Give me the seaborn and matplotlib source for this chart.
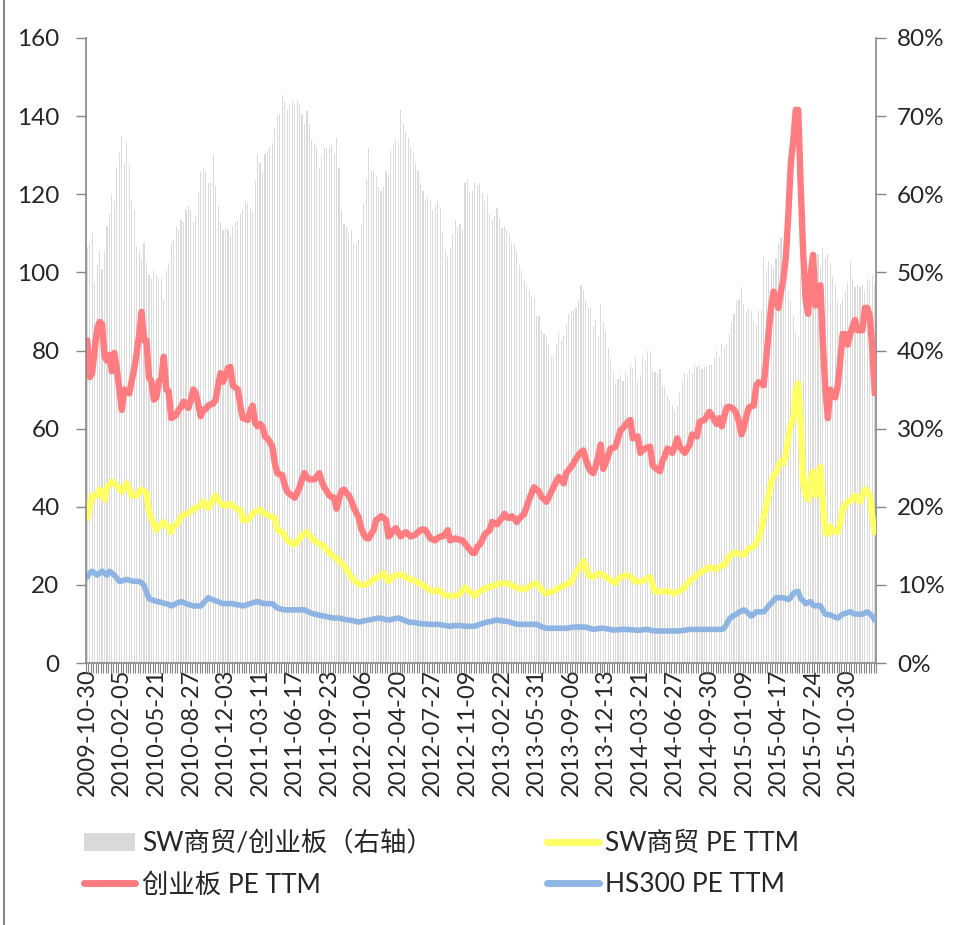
import matplotlib
matplotlib.use("Agg")
import matplotlib.pyplot as plt
import seaborn as sns
import pandas as pd
import numpy as np
from matplotlib.lines import Line2D
from matplotlib.patches import Patch
from matplotlib.ticker import FuncFormatter

tick_labels = ["2009-10-30", "2010-02-05", "2010-05-21", "2010-08-27", "2010-12-03",
               "2011-03-11", "2011-06-17", "2011-09-23", "2012-01-06", "2012-04-20",
               "2012-07-27", "2012-11-09", "2013-02-22", "2013-05-31", "2013-09-06",
               "2013-12-13", "2014-03-21", "2014-06-27", "2014-09-30", "2015-01-09",
               "2015-04-17", "2015-07-24", "2015-10-30"]

# SW商贸/创业板 (right axis, %)
ratio_pct = [
    53.3, 53.6, 55.1, 48.6, 51.0, 52.8, 50.4, 52.8, 55.9, 57.5,
    59.9, 59.1, 63.3, 65.3, 67.4, 64.0, 66.6, 63.8, 59.1, 58.0,
    53.3, 52.8, 51.8, 53.8, 51.2, 49.7, 49.1, 50.2, 49.7, 49.1,
    49.1, 46.5, 50.2, 51.2, 53.8, 54.1, 55.9, 55.4, 56.7, 56.5,
    58.0, 58.5, 58.0, 56.5, 57.2, 60.1, 63.0, 63.3, 63.0, 61.4,
    61.4, 65.1, 61.0, 58.5, 56.5, 55.4, 55.7, 55.4, 54.6, 55.9,
    56.5, 56.7, 57.5, 58.0, 59.1, 58.8, 58.3, 57.8, 61.7, 65.1,
    64.0, 62.7, 65.1, 65.6, 66.1, 66.6, 68.5, 70.0, 70.3, 72.7,
    71.9, 70.8, 71.6, 71.9, 71.6, 72.1, 71.4, 70.3, 69.0, 70.6,
    69.0, 66.9, 66.6, 66.1, 63.3, 64.8, 65.9, 65.9, 66.1, 66.4,
    65.1, 67.2, 63.3, 58.0, 56.2, 55.9, 55.1, 55.4, 53.8, 53.8,
    54.1, 56.2, 58.8, 61.9, 65.9, 63.0, 63.0, 62.2, 60.9, 60.4,
    60.9, 63.0, 62.5, 65.6, 66.4, 66.9, 66.6, 70.8, 69.0, 68.0,
    67.2, 66.1, 65.3, 64.0, 63.0, 61.4, 60.4, 59.1, 59.6, 59.3,
    58.0, 58.5, 59.1, 58.3, 55.1, 52.8, 52.0, 53.1, 54.9, 56.7,
    55.7, 56.2, 55.4, 61.4, 61.9, 60.4, 60.4, 61.4, 61.2, 61.4,
    60.1, 59.1, 59.9, 57.5, 56.7, 57.2, 58.3, 57.0, 55.7, 55.9,
    55.4, 54.9, 53.8, 53.6, 52.8, 51.0, 50.2, 49.1, 48.4, 47.8,
    46.8, 46.8, 44.4, 44.4, 42.6, 42.1, 41.8, 40.8, 39.2, 39.2,
    40.8, 42.3, 41.3, 41.8, 43.4, 44.7, 45.0, 45.2, 45.5, 46.5,
    48.4, 47.8, 46.5, 45.5, 45.5, 43.1, 43.9, 41.8, 46.0, 43.6,
    42.6, 40.3, 38.9, 37.1, 35.8, 36.3, 36.9, 36.1, 37.1, 36.6,
    38.2, 37.6, 39.2, 36.1, 36.9, 39.2, 38.7, 40.0, 40.0, 37.4,
    37.2, 37.1, 37.6, 35.5, 35.3, 34.2, 33.7, 32.9, 32.4, 32.9,
    34.5, 36.1, 37.1, 36.9, 37.6, 37.1, 38.2, 37.9, 38.2, 37.6,
    37.9, 37.9, 38.2, 38.2, 39.2, 40.0, 39.2, 40.8, 40.5, 40.8,
    42.1, 43.6, 44.7, 46.3, 46.5, 48.1, 46.0, 45.0, 45.5, 45.0,
    43.6, 43.4, 45.0, 45.2, 52.0, 50.2, 51.5, 51.0, 50.4, 51.8,
    53.8, 54.4, 49.9, 49.1, 47.6, 46.3, 44.4, 42.3, 41.8, 49.7,
    51.5, 50.7, 48.6, 51.2, 49.7, 52.5, 52.3, 50.7, 53.1, 51.8,
    52.3, 51.0, 49.4, 48.4, 46.3, 46.0, 46.5, 47.6, 48.6, 51.5,
    49.1, 48.1, 48.4, 48.1, 48.4, 47.6, 49.1, 48.9, 49.7, 48.4,
]

# SW商贸 PE TTM
sw_pe = [
    37.1, 40.2, 42.9, 42.5, 43.0, 44.4, 43.9, 41.8, 45.0, 45.8,
    46.5, 45.8, 45.5, 44.5, 43.9, 45.0, 46.0, 44.5, 42.9, 42.9,
    42.9, 43.9, 44.4, 44.0, 43.4, 38.7, 37.0, 35.5, 34.0, 35.0,
    35.5, 36.1, 35.5, 34.5, 33.5, 35.0, 35.5, 36.1, 37.6, 37.8,
    38.2, 38.4, 38.7, 39.5, 39.7, 40.0, 40.2, 41.3, 40.5, 39.7,
    40.8, 42.0, 42.9, 41.8, 41.0, 40.5, 40.2, 40.5, 40.8, 40.2,
    39.7, 39.4, 39.2, 36.6, 36.6, 36.6, 37.5, 38.2, 38.7, 39.0,
    39.2, 38.7, 38.2, 37.9, 37.6, 37.3, 37.1, 34.0, 33.7, 33.5,
    32.5, 31.4, 31.0, 30.6, 30.3, 31.0, 31.9, 32.5, 33.2, 33.5,
    32.7, 31.9, 31.4, 31.0, 30.5, 30.2, 29.8, 29.0, 28.2, 27.7,
    27.2, 26.7, 26.2, 25.6, 24.8, 24.0, 23.0, 22.0, 21.2, 20.7,
    20.3, 19.9, 20.0, 20.2, 20.4, 20.9, 21.4, 21.7, 22.0, 22.5,
    23.0, 22.0, 20.9, 21.5, 22.2, 22.5, 22.5, 22.5, 22.5, 22.0,
    21.6, 21.4, 21.2, 20.9, 20.6, 20.3, 19.9, 19.5, 19.0, 18.6,
    18.3, 18.5, 18.8, 18.3, 17.8, 17.3, 17.2, 17.2, 17.2, 17.2,
    17.4, 17.8, 18.5, 19.3, 18.8, 18.3, 17.8, 17.2, 17.8, 18.3,
    18.8, 19.0, 19.3, 19.5, 19.7, 19.9, 20.1, 20.3, 20.4, 20.4,
    20.4, 20.2, 19.9, 19.6, 19.3, 19.1, 19.0, 18.8, 19.2, 19.6,
    19.9, 20.2, 20.4, 19.6, 18.8, 18.3, 17.8, 18.0, 18.2, 18.5,
    18.8, 19.2, 19.5, 19.8, 20.1, 20.3, 20.6, 22.0, 23.3, 24.0,
    25.0, 26.1, 24.5, 22.5, 22.2, 22.0, 22.5, 23.0, 22.8, 22.5,
    22.0, 21.6, 21.2, 20.8, 20.4, 21.4, 22.0, 22.2, 22.4, 22.5,
    22.0, 21.5, 20.9, 20.9, 20.9, 20.9, 21.3, 21.7, 22.0, 20.0,
    18.3, 18.3, 18.3, 18.3, 18.3, 18.3, 18.3, 18.0, 17.8, 18.2,
    18.5, 18.8, 19.5, 20.2, 20.9, 21.5, 22.0, 22.5, 23.0, 23.4,
    23.8, 24.2, 24.6, 24.3, 24.0, 24.3, 24.6, 24.9, 25.1, 26.0,
    27.2, 27.7, 28.2, 28.2, 28.0, 27.8, 27.7, 28.5, 29.3, 29.5,
    29.8, 30.8, 31.9, 34.0, 37.1, 40.0, 43.0, 46.0, 48.0, 48.6,
    50.5, 51.7, 51.2, 53.3, 58.0, 61.2, 62.2, 70.0, 71.6, 61.0,
    46.0, 43.0, 41.8, 47.5, 49.0, 42.9, 47.0, 50.2, 40.5, 33.5,
    33.0, 35.0, 33.8, 33.5, 33.5, 36.0, 39.5, 40.5, 41.3, 41.3,
    42.0, 42.9, 42.0, 41.3, 43.0, 44.4, 44.0, 42.9, 37.5, 33.5,
]

# 创业板 PE TTM
cyb_pe = [
    82.6, 73.2, 74.2, 80.0, 85.5, 87.3, 86.8, 78.4, 77.4, 78.9,
    74.7, 79.4, 75.3, 70.0, 64.8, 70.0, 69.5, 69.0, 72.1, 75.3,
    79.0, 84.0, 89.9, 82.6, 82.6, 73.2, 72.1, 67.4, 68.0, 72.1,
    72.7, 78.4, 70.0, 69.5, 62.7, 63.0, 63.5, 64.8, 65.5, 66.9,
    66.0, 65.3, 67.5, 70.0, 69.0, 66.0, 63.2, 64.8, 65.0, 65.9,
    66.2, 66.4, 67.4, 71.0, 74.2, 72.0, 73.5, 75.5, 75.8, 71.0,
    70.5, 70.0, 66.0, 62.7, 62.5, 62.2, 64.5, 65.9, 61.5, 60.6,
    61.2, 60.5, 58.0, 57.5, 56.5, 55.4, 51.0, 48.6, 48.3, 48.1,
    45.5, 43.9, 43.2, 42.9, 42.3, 43.5, 45.0, 47.0, 48.6, 47.5,
    47.0, 47.0, 47.0, 47.8, 48.6, 46.5, 45.0, 44.0, 42.9, 42.5,
    42.3, 39.5, 42.0, 44.0, 44.4, 43.5, 42.9, 41.5, 39.7, 38.5,
    37.1, 34.5, 32.9, 32.0, 31.9, 33.0, 34.0, 36.6, 37.0, 37.6,
    37.2, 36.6, 32.4, 32.9, 34.0, 34.5, 33.5, 32.4, 33.0, 33.5,
    33.0, 32.4, 32.6, 32.9, 33.5, 34.0, 34.2, 34.0, 33.0, 31.9,
    31.6, 31.4, 32.0, 32.4, 32.4, 33.0, 34.0, 31.4, 31.6, 31.9,
    31.7, 31.5, 31.4, 30.6, 29.8, 29.0, 28.2, 28.2, 29.8, 30.3,
    31.5, 32.9, 33.5, 34.0, 36.1, 35.8, 35.5, 36.5, 37.1, 38.2,
    37.3, 37.1, 37.6, 37.0, 36.1, 37.0, 37.6, 38.2, 40.0, 41.8,
    43.5, 45.0, 44.5, 43.9, 42.5, 42.0, 41.3, 42.5, 43.9, 45.2,
    46.5, 47.6, 46.8, 46.0, 48.6, 49.4, 50.2, 51.2, 52.3, 53.2,
    54.0, 54.4, 52.0, 50.2, 49.0, 48.6, 50.5, 52.8, 55.9, 49.7,
    51.2, 53.0, 54.9, 55.0, 55.4, 57.5, 59.6, 60.1, 61.0, 61.7,
    62.2, 57.5, 57.8, 58.0, 53.8, 54.5, 54.9, 55.2, 55.4, 50.7,
    50.0, 49.5, 49.1, 51.7, 53.0, 54.9, 54.5, 53.8, 55.5, 57.5,
    55.4, 54.5, 53.8, 54.8, 55.9, 58.5, 58.3, 58.0, 61.7, 62.0,
    62.2, 63.2, 64.3, 63.5, 62.2, 61.2, 62.7, 60.6, 63.0, 65.4,
    65.6, 65.4, 64.8, 63.8, 61.7, 58.5, 60.5, 63.2, 65.4, 65.7,
    65.9, 71.1, 71.9, 71.5, 71.1, 77.4, 84.7, 91.0, 95.1, 93.0,
    90.9, 95.1, 98.3, 104.0, 115.0, 128.0, 133.8, 141.6, 141.6, 122.0,
    105.0, 93.0, 89.4, 99.3, 104.5, 91.5, 96.2, 96.7, 81.5, 70.0,
    62.7, 70.0, 68.5, 68.0, 71.1, 77.4, 84.2, 84.2, 81.5, 84.0,
    86.2, 87.8, 85.2, 85.2, 85.2, 90.9, 90.9, 88.9, 80.5, 69.0,
]

# HS300 PE TTM
hs300_pe = [
    22.0, 23.0, 23.5, 23.0, 22.5, 23.0, 23.5, 23.0, 22.5, 23.5,
    23.0, 22.5, 21.7, 20.9, 21.0, 21.2, 21.4, 21.2, 21.0, 20.9,
    20.9, 20.9, 20.5, 19.9, 18.0, 16.5, 16.2, 16.0, 15.8, 15.7,
    15.5, 15.3, 15.2, 15.0, 14.6, 14.9, 15.2, 15.5, 15.7, 15.5,
    15.2, 15.0, 14.8, 14.6, 14.6, 14.6, 14.6, 15.3, 16.0, 16.7,
    16.4, 16.2, 15.9, 15.7, 15.4, 15.2, 15.2, 15.2, 15.2, 15.2,
    15.0, 14.9, 14.8, 14.6, 14.8, 15.0, 15.2, 15.4, 15.6, 15.7,
    15.5, 15.3, 15.2, 15.2, 15.2, 15.2, 14.6, 14.1, 13.9, 13.7,
    13.6, 13.6, 13.6, 13.6, 13.6, 13.6, 13.6, 13.6, 13.6, 13.3,
    13.0, 12.7, 12.5, 12.4, 12.2, 12.1, 12.0, 11.9, 11.7, 11.6,
    11.5, 11.5, 11.5, 11.4, 11.2, 11.1, 11.0, 10.9, 10.8, 10.6,
    10.5, 10.6, 10.8, 10.9, 11.0, 11.1, 11.3, 11.4, 11.5, 11.4,
    11.3, 11.1, 11.0, 11.1, 11.3, 11.4, 11.5, 11.3, 11.0, 10.8,
    10.5, 10.4, 10.4, 10.3, 10.2, 10.1, 10.0, 10.0, 9.9, 9.9,
    9.9, 9.9, 9.9, 9.8, 9.7, 9.6, 9.5, 9.4, 9.5, 9.6,
    9.6, 9.6, 9.5, 9.4, 9.4, 9.4, 9.4, 9.4, 9.7, 9.9,
    10.1, 10.3, 10.5, 10.6, 10.7, 10.9, 11.0, 10.9, 10.8, 10.7,
    10.7, 10.5, 10.3, 10.1, 9.9, 9.9, 9.9, 9.9, 9.9, 9.9,
    9.9, 9.9, 9.9, 9.6, 9.3, 9.1, 8.9, 8.9, 8.9, 8.9,
    8.9, 8.9, 8.9, 8.9, 8.9, 9.0, 9.1, 9.2, 9.2, 9.2,
    9.2, 9.2, 9.2, 9.0, 8.8, 8.6, 8.7, 8.8, 8.9, 8.9,
    8.8, 8.7, 8.6, 8.4, 8.5, 8.5, 8.6, 8.6, 8.6, 8.6,
    8.5, 8.5, 8.4, 8.4, 8.4, 8.5, 8.6, 8.6, 8.4, 8.3,
    8.2, 8.2, 8.2, 8.2, 8.2, 8.2, 8.2, 8.2, 8.2, 8.2,
    8.2, 8.3, 8.4, 8.5, 8.6, 8.6, 8.6, 8.6, 8.6, 8.6,
    8.6, 8.6, 8.6, 8.6, 8.6, 8.6, 8.6, 8.6, 8.9, 10.0,
    11.2, 11.8, 12.2, 12.5, 13.0, 13.3, 13.6, 13.2, 12.6, 12.0,
    12.5, 13.1, 13.1, 13.1, 13.1, 13.8, 14.6, 15.3, 16.0, 16.7,
    16.7, 16.7, 16.7, 16.5, 16.2, 16.8, 17.8, 18.2, 18.3, 16.5,
    16.0, 15.2, 15.5, 15.7, 14.8, 14.6, 14.8, 14.6, 13.5, 12.5,
    12.4, 12.3, 12.0, 11.7, 11.5, 12.0, 12.5, 12.7, 12.9, 13.1,
    12.8, 12.5, 12.5, 12.5, 12.5, 12.8, 13.1, 12.6, 12.0, 11.0,
]

label_bar = "SW商贸/创业板（右轴）"
label_sw = "SW商贸 PE TTM"
label_cyb = "创业板 PE TTM"
label_hs = "HS300 PE TTM"

c_bar = "#dadada"
c_sw = "#ffff66"
c_cyb = "#ff7c80"
c_hs = "#8db4e2"
c_axis = "#868686"

sns.set_theme(style="white")
plt.rcParams['font.family'] = ['Lato', 'Noto Sans CJK SC', 'DejaVu Sans']

n = len(ratio_pct)
df = pd.DataFrame({
    "week": list(range(n)),
    "ratio": ratio_pct,
    "sw": sw_pe,
    "cyb": cyb_pe,
    "hs": hs300_pe,
})

fig = plt.figure(figsize=(9.55, 9.25), dpi=100)
ax = fig.add_axes([86 / 955, 1 - 663 / 925, 790 / 955, 625 / 925])
ax2 = ax.twinx()

sns.barplot(data=df, x="week", y="ratio", ax=ax2, color=c_bar, width=0.45,
            saturation=1, linewidth=0, errorbar=None)

sns.lineplot(data=df, x="week", y="sw", ax=ax, color=c_sw, linewidth=4.5,
             solid_capstyle="round", solid_joinstyle="round")
sns.lineplot(data=df, x="week", y="cyb", ax=ax, color=c_cyb, linewidth=4.6,
             solid_capstyle="round", solid_joinstyle="round")
sns.lineplot(data=df, x="week", y="hs", ax=ax, color=c_hs, linewidth=4.0,
             solid_capstyle="round", solid_joinstyle="round")

ax.set_zorder(ax2.get_zorder() + 1)
ax.patch.set_visible(False)

ax.set_xlim(-0.5, n - 0.5)
ax.set_ylim(0, 160)
ax2.set_ylim(0, 80)
ax.set_xlabel("")
ax.set_ylabel("")
ax2.set_xlabel("")
ax2.set_ylabel("")

ax.set_yticks(range(0, 161, 20))
ax2.set_yticks(range(0, 81, 10))
ax2.yaxis.set_major_formatter(FuncFormatter(lambda v, p: f"{v:.0f}%"))

major_pos = [k * 14 for k in range(len(tick_labels))]
ax.set_xticks(major_pos)
ax.set_xticklabels(tick_labels, rotation=90, fontsize=17)
ax.set_xticks(np.arange(-0.5, n, 1.0), minor=True)

ax.tick_params(axis="y", which="major", left=True, direction="out", length=7,
               width=1, color=c_axis, labelsize=17.5, pad=12)
ax2.tick_params(axis="y", which="major", right=True, direction="out", length=7,
                width=1, color=c_axis, labelsize=17.5, pad=8)
ax.tick_params(axis="x", which="major", bottom=True, length=0, pad=4)
ax.tick_params(axis="x", which="minor", bottom=True, direction="out", length=7,
               width=0.8, color=c_axis)

for s in ["top", "right"]:
    ax.spines[s].set_visible(False)
for s in ["left", "bottom"]:
    ax.spines[s].set_color(c_axis)
    ax.spines[s].set_linewidth(1.2)
for s in ["top", "left", "bottom"]:
    ax2.spines[s].set_visible(False)
ax2.spines["right"].set_color(c_axis)
ax2.spines["right"].set_linewidth(1.2)

handles = [
    Patch(facecolor="#d9d9d9", edgecolor="none", label=label_bar),
    Line2D([], [], color=c_cyb, linewidth=5, label=label_cyb),
    Line2D([], [], color=c_sw, linewidth=5, label=label_sw),
    Line2D([], [], color=c_hs, linewidth=5, label=label_hs),
]
fig.legend(handles=handles, ncol=2, loc="upper left",
           bbox_to_anchor=(84 / 955, 1 - 831 / 925), frameon=False,
           fontsize=19, handlelength=1.95, handleheight=0.7,
           handletextpad=0.25, columnspacing=4.33, labelspacing=0.62,
           borderpad=0, borderaxespad=0)

fig.add_artist(Line2D([4 / 955, 4 / 955], [0, 1], transform=fig.transFigure,
                      color=c_axis, linewidth=1.5))

fig.savefig("out.png", dpi=100)
